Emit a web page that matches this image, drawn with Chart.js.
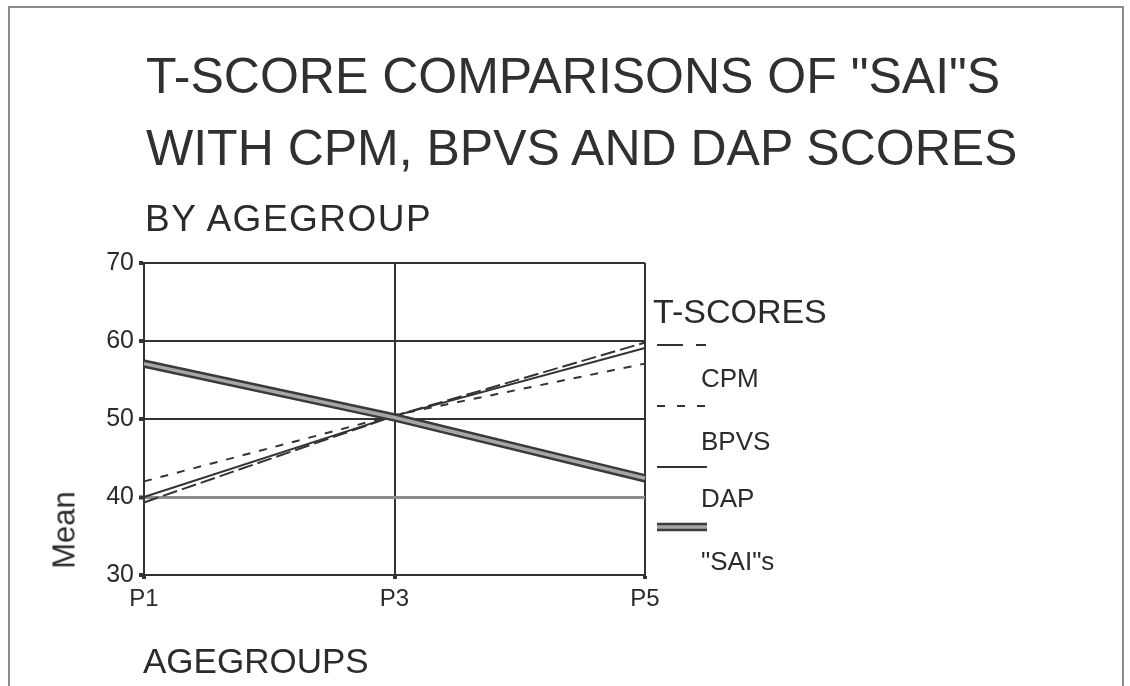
<!DOCTYPE html>
<html><head><meta charset="utf-8">
<script src="https://cdn.jsdelivr.net/npm/chart.js@4/dist/chart.umd.min.js"></script>
<style>
body{margin:0;background:#fff;}
#wrap{position:relative;width:1130px;height:686px;overflow:hidden;font-family:"Liberation Sans",Arial,sans-serif;color:#2b2b2b;background:#fff;}
#frame{position:absolute;left:8px;top:6px;width:1116px;height:720px;border:2px solid #8a8a8a;border-bottom:none;box-sizing:border-box;}
.t{position:absolute;white-space:nowrap;line-height:1;}
canvas{position:absolute;left:0;top:0;}
</style></head><body>
<div id="wrap">
<div id="frame"></div>
<canvas id="c" width="1130" height="686"></canvas>
<div class="t" style="left:146px;top:51px;font-size:50px;color:#303030;">T-SCORE COMPARISONS OF "SAI"S</div>
<div class="t" style="left:146px;top:123px;font-size:50px;color:#303030;">WITH CPM, BPVS AND DAP SCORES</div>
<div class="t" style="left:145px;top:200px;font-size:37px;letter-spacing:1.5px;">BY AGEGROUP</div>
<div class="t" style="left:143px;top:643px;font-size:35px;">AGEGROUPS</div>
<div class="t" style="left:653px;top:294px;font-size:34px;">T-SCORES</div>
<div class="t" style="left:64px;top:530px;font-size:31px;transform:translate(-50%,-50%) rotate(-90deg);">Mean</div>
</div>
<script>
const categories = ['P1', 'P3', 'P5'];
const cpm  = [39.3, 50.4, 59.8];
const bpvs = [42.0, 50.5, 57.1];
const dap  = [40.0, 50.4, 59.1];
const sai  = [57.1, 50.2, 42.4];
const yTicks = [30, 40, 50, 60, 70];
const seriesLabels = ['CPM', 'BPVS', 'DAP', '"SAI"s'];

const dark = '#333333';

const legendPlugin = {
  id: 'customLegend',
  afterDraw(chart) {
    const ctx = chart.ctx;
    const x0 = chart.chartArea.right + 12;
    const x1 = chart.chartArea.right + 62;
    const lineYs = [345, 406, 467, 527];
    const textYs = [380, 443, 500, 563];
    const ds = chart.data.datasets;
    const groups = [[0], [1], [2], [3, 4]];
    ctx.save();
    groups.forEach((g, i) => {
      g.forEach(di => {
        const d = ds[di];
        ctx.beginPath();
        ctx.setLineDash(d.legendDash || d.borderDash || []);
        ctx.strokeStyle = d.borderColor;
        ctx.lineWidth = d.borderWidth;
        ctx.moveTo(x0, lineYs[i]);
        ctx.lineTo(x1, lineYs[i]);
        ctx.stroke();
      });
      ctx.setLineDash([]);
      ctx.fillStyle = '#2b2b2b';
      ctx.font = '26px "Liberation Sans", Arial, sans-serif';
      ctx.textBaseline = 'middle';
      ctx.textAlign = 'left';
      ctx.fillText(seriesLabels[i], chart.chartArea.right + 56, textYs[i]);
    });
    ctx.restore();
  }
};

new Chart(document.getElementById('c'), {
  type: 'line',
  data: {
    labels: categories,
    datasets: [
      { label: seriesLabels[0], data: cpm, borderColor: dark, borderWidth: 2, borderDash: [15, 5], legendDash: [26, 13, 10, 50], order: 3 },
      { label: seriesLabels[1], data: bpvs, borderColor: dark, borderWidth: 2, borderDash: [8, 9], legendDash: [8, 12], order: 3 },
      { label: seriesLabels[2], data: dap, borderColor: dark, borderWidth: 2, order: 3 },
      { label: seriesLabels[3], data: sai, borderColor: '#3a3a3a', borderWidth: 8.5, order: 2 },
      { label: seriesLabels[3] + ' fill', data: sai, borderColor: '#a6a6a6', borderWidth: 3.5, order: 1 }
    ]
  },
  options: {
    responsive: false,
    animation: false,
    events: [],
    elements: { point: { radius: 0 }, line: { tension: 0, fill: false } },
    layout: { padding: { top: 263, left: 0, right: 485, bottom: 0 } },
    plugins: { legend: { display: false }, tooltip: { enabled: false }, title: { display: false } },
    scales: {
      x: {
        offset: false,
        afterFit(scale) { scale.height = 111; },
        grid: { color: dark, lineWidth: 2, tickLength: 4, tickWidth: 4, tickColor: dark },
        border: { display: true, color: dark, width: 2 },
        ticks: { color: '#2b2b2b', padding: 6, maxRotation: 0, font: { family: '"Liberation Sans", Arial, sans-serif', size: 24 } }
      },
      y: {
        min: 30, max: 70,
        afterFit(scale) { scale.width = 144; },
        afterBuildTicks(scale) { scale.ticks = yTicks.map(v => ({ value: v })); },
        grid: {
          color: c => (c.tick && c.tick.value === 40) ? '#8c8c8c' : dark,
          lineWidth: c => (c.tick && c.tick.value === 40) ? 3 : 2,
          tickLength: 5, tickWidth: 4, tickColor: dark
        },
        border: { display: true, color: dark, width: 2 },
        ticks: { color: '#2b2b2b', padding: 5, font: { family: '"Liberation Sans", Arial, sans-serif', size: 25 } }
      }
    }
  },
  plugins: [legendPlugin]
});
</script>
</body></html>
